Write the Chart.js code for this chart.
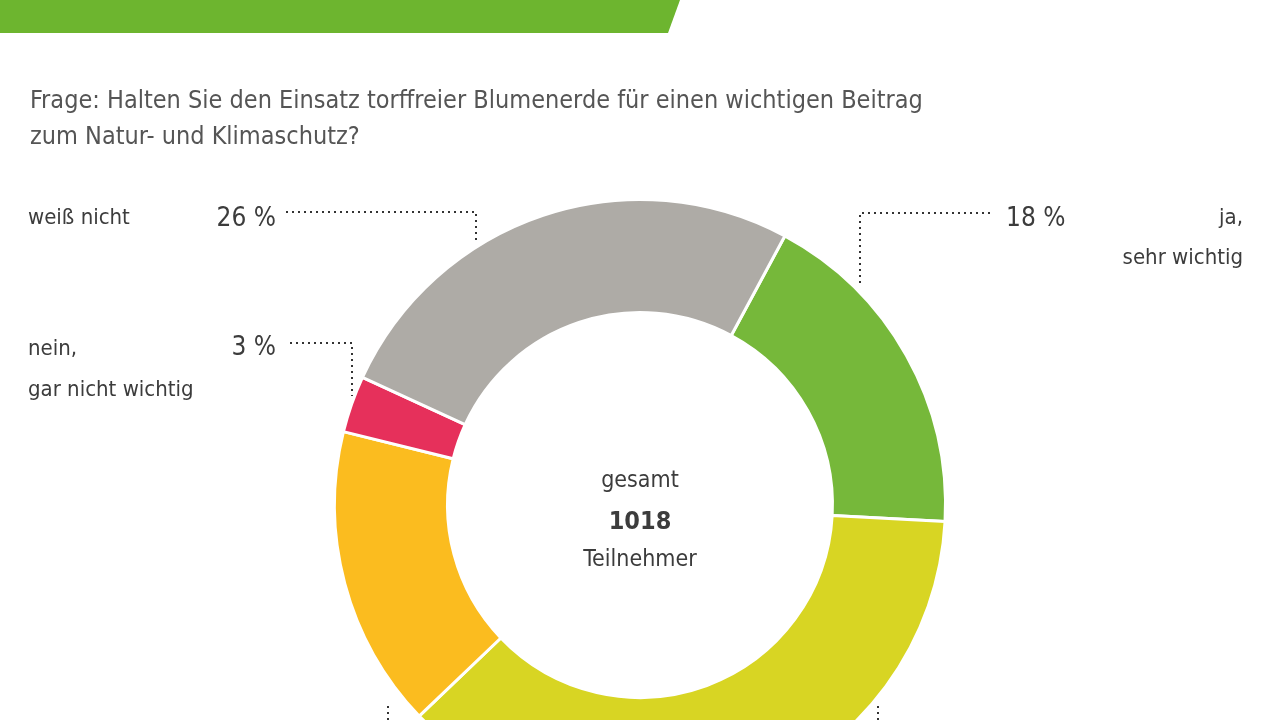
<!DOCTYPE html>
<html>
<head>
<meta charset="utf-8">
<script src="https://cdn.jsdelivr.net/npm/chart.js@4"></script>
<style>
  html, body { margin: 0; padding: 0; background: #fff; overflow: hidden; width: 1280px; height: 720px; }
  #wrap { position: absolute; left: 0; top: 0; width: 1280px; height: 900px; }
</style>
</head>
<body>
<div id="wrap"><canvas id="chart"></canvas></div>
<script>
// Data
const categories = ['ja, sehr wichtig', 'eher wichtig', 'eher nicht wichtig', 'nein, gar nicht wichtig', 'weiß nicht'];
const shares = [18, 37, 16, 3, 26];
const sliceColors = ['#76b83a', '#d8d523', '#fbbc1f', '#e6305b', '#aeaba6'];
const question = ['Frage: Halten Sie den Einsatz torffreier Blumenerde für einen wichtigen Beitrag', 'zum Natur- und Klimaschutz?'];
const centerLines = ['gesamt', '1018', 'Teilnehmer'];

const TEXT = '#3c3c3c';
const FONT = '"DejaVu Sans Condensed", "Liberation Sans Narrow", sans-serif';

// Draws header bar, question, labels with dotted leaders and centre text
const decorPlugin = {
  id: 'decor',
  beforeDraw(chart) {
    const ctx = chart.ctx;
    ctx.save();
    ctx.fillStyle = '#6db52f';
    ctx.beginPath();
    ctx.moveTo(0, 0); ctx.lineTo(680, 0); ctx.lineTo(668, 33); ctx.lineTo(0, 33);
    ctx.closePath(); ctx.fill();
    ctx.restore();
  },
  afterDraw(chart) {
    const ctx = chart.ctx;
    ctx.save();
    ctx.fillStyle = '#555';
    ctx.font = '25px ' + FONT;
    ctx.textBaseline = 'alphabetic';
    ctx.fillText(question[0], 30, 108);
    ctx.fillText(question[1], 30, 144);

    ctx.fillStyle = TEXT;
    ctx.font = '22px ' + FONT;
    ctx.fillText('weiß nicht', 28, 224);
    ctx.fillText('nein,', 28, 355);
    ctx.fillText('gar nicht wichtig', 28, 396);
    ctx.textAlign = 'right';
    ctx.fillText('ja,', 1243, 224);
    ctx.fillText('sehr wichtig', 1243, 264);

    ctx.font = '26px ' + FONT;
    ctx.fillText(shares[4] + ' %', 276, 226);
    ctx.fillText(shares[3] + ' %', 276, 355);
    ctx.textAlign = 'left';
    ctx.fillText(shares[0] + ' %', 1006, 226);

    // leaders
    ctx.strokeStyle = '#333';
    ctx.lineWidth = 2;
    ctx.setLineDash([2, 4]);
    const lead = pts => { ctx.beginPath(); ctx.moveTo(pts[0][0], pts[0][1]); pts.slice(1).forEach(p => ctx.lineTo(p[0], p[1])); ctx.stroke(); };
    lead([[286, 212], [476, 212], [476, 244]]);
    lead([[990, 213], [860, 213], [860, 286]]);
    lead([[290, 343], [352, 343], [352, 396]]);
    lead([[388, 706], [388, 720]]);
    lead([[878, 706], [878, 720]]);
    ctx.setLineDash([]);

    // centre
    const m = chart.getDatasetMeta(0).data[0];
    ctx.textAlign = 'center';
    ctx.fillStyle = TEXT;
    ctx.font = '23px ' + FONT;
    ctx.fillText(centerLines[0], m.x, 487);
    ctx.font = 'bold 25px ' + FONT;
    ctx.fillText(centerLines[1], m.x, 529);
    ctx.font = '23px ' + FONT;
    ctx.fillText(centerLines[2], m.x, 566);
    ctx.restore();
  }
};

new Chart(document.getElementById('chart'), {
  type: 'doughnut',
  data: {
    labels: categories,
    datasets: [{
      data: shares,
      backgroundColor: sliceColors,
      borderColor: '#fff',
      borderWidth: 3
    }]
  },
  options: {
    responsive: true,
    maintainAspectRatio: false,
    animation: false,
    rotation: 28.3,
    cutout: '63%',
    layout: { padding: { left: 330, right: 330, top: 198, bottom: 88 } },
    plugins: { legend: { display: false }, tooltip: { enabled: false } }
  },
  plugins: [decorPlugin]
});
</script>
</body>
</html>
